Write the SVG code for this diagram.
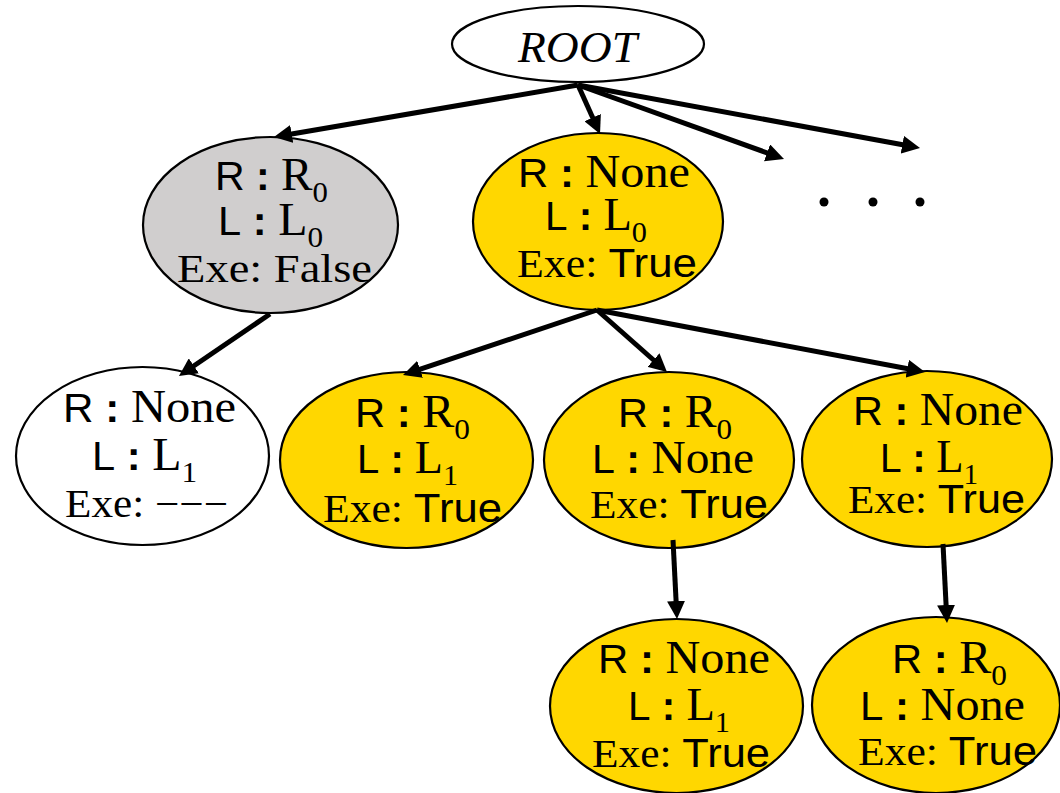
<svg xmlns="http://www.w3.org/2000/svg" width="1060" height="793" viewBox="0 0 1060 793">
  <style>
    .node { stroke: #000; stroke-width: 2.2; }
    .plain { fill: #ffffff; }
    .grey { fill: #d0cece; }
    .gold { fill: #ffd700; }
    .edge { stroke: #000; stroke-width: 5; fill: none; marker-end: url(#head); }
    text { fill: #000; }
    .s { font-family: "Liberation Sans", Arial, sans-serif; font-size: 40px; }
    .c { font-family: "Liberation Sans", Arial, sans-serif; font-size: 40px; font-weight: bold; }
    .m { font-family: "Liberation Serif", "Times New Roman", serif; font-size: 46px; }
    .e { font-family: "Liberation Serif", "Times New Roman", serif; font-size: 40px; }
    .sub { font-family: "Liberation Serif", "Times New Roman", serif; font-size: 30px; }
    .root { font-family: "Liberation Serif", "Times New Roman", serif; font-size: 45px; font-style: italic; }
  </style>
  <defs>
    <marker id="head" markerUnits="userSpaceOnUse" viewBox="0 0 18 18" markerWidth="18" markerHeight="18" refX="6" refY="9" orient="auto">
      <path d="M0,0 L18,9 L0,18 Z" fill="#000"/>
    </marker>
  </defs>

  <rect width="1060" height="793" fill="#ffffff"/>

  <!-- root -->
  <g id="root">
    <ellipse class="node plain" cx="578" cy="44" rx="126" ry="38"/>
    <text class="root" x="518" y="62" textLength="119" lengthAdjust="spacingAndGlyphs">ROOT</text>
  </g>

  <!-- level 1 -->
  <g id="n-r0-l0">
    <ellipse class="node grey" cx="270.5" cy="225" rx="127.5" ry="88"/>
    <text x="215" y="190" textLength="113" lengthAdjust="spacingAndGlyphs"><tspan class="s">R</tspan><tspan class="c"> : </tspan><tspan class="m">R</tspan><tspan class="sub" dy="12">0</tspan></text>
    <text x="218" y="235" textLength="105" lengthAdjust="spacingAndGlyphs"><tspan class="s">L</tspan><tspan class="c"> : </tspan><tspan class="m">L</tspan><tspan class="sub" dy="12">0</tspan></text>
    <text x="177" y="282" textLength="195" lengthAdjust="spacingAndGlyphs"><tspan class="e">Exe: False</tspan></text>
  </g>

  <g id="n-none-l0">
    <ellipse class="node gold" cx="598" cy="221.5" rx="125" ry="88.5"/>
    <text x="518" y="187" textLength="172" lengthAdjust="spacingAndGlyphs"><tspan class="s">R</tspan><tspan class="c"> : </tspan><tspan class="m">None</tspan></text>
    <text x="545" y="230" textLength="102" lengthAdjust="spacingAndGlyphs"><tspan class="s">L</tspan><tspan class="c"> : </tspan><tspan class="m">L</tspan><tspan class="sub" dy="12">0</tspan></text>
    <text x="517" y="277" textLength="180" lengthAdjust="spacingAndGlyphs"><tspan class="e">Exe: </tspan><tspan class="s">True</tspan></text>
  </g>

  <!-- the remaining root branches -->
  <g id="more">
    <circle cx="824" cy="202" r="4.5" fill="#000"/>
    <circle cx="873" cy="202" r="4.5" fill="#000"/>
    <circle cx="920" cy="202" r="4.5" fill="#000"/>
  </g>

  <!-- level 2 -->
  <g id="n-none-l1-a">
    <ellipse class="node plain" cx="142.5" cy="456" rx="126.5" ry="89"/>
    <text x="63" y="422" textLength="173" lengthAdjust="spacingAndGlyphs"><tspan class="s">R</tspan><tspan class="c"> : </tspan><tspan class="m">None</tspan></text>
    <text x="92" y="470" textLength="105" lengthAdjust="spacingAndGlyphs"><tspan class="s">L</tspan><tspan class="c"> : </tspan><tspan class="m">L</tspan><tspan class="sub" dy="12">1</tspan></text>
    <text x="65" y="517" textLength="163" lengthAdjust="spacingAndGlyphs"><tspan class="e">Exe: −−−</tspan></text>
  </g>

  <g id="n-r0-l1">
    <ellipse class="node gold" cx="406.5" cy="460" rx="126.5" ry="88"/>
    <text x="355" y="427" textLength="115" lengthAdjust="spacingAndGlyphs"><tspan class="s">R</tspan><tspan class="c"> : </tspan><tspan class="m">R</tspan><tspan class="sub" dy="12">0</tspan></text>
    <text x="357" y="473" textLength="101" lengthAdjust="spacingAndGlyphs"><tspan class="s">L</tspan><tspan class="c"> : </tspan><tspan class="m">L</tspan><tspan class="sub" dy="12">1</tspan></text>
    <text x="323" y="522" textLength="179" lengthAdjust="spacingAndGlyphs"><tspan class="e">Exe: </tspan><tspan class="s">True</tspan></text>
  </g>

  <g id="n-r0-none">
    <ellipse class="node gold" cx="669" cy="460" rx="125" ry="88"/>
    <text x="618" y="427" textLength="114" lengthAdjust="spacingAndGlyphs"><tspan class="s">R</tspan><tspan class="c"> : </tspan><tspan class="m">R</tspan><tspan class="sub" dy="12">0</tspan></text>
    <text x="592" y="473" textLength="162" lengthAdjust="spacingAndGlyphs"><tspan class="s">L</tspan><tspan class="c"> : </tspan><tspan class="m">None</tspan></text>
    <text x="590" y="518" textLength="178" lengthAdjust="spacingAndGlyphs"><tspan class="e">Exe: </tspan><tspan class="s">True</tspan></text>
  </g>

  <g id="n-none-l1-b">
    <ellipse class="node gold" cx="927" cy="459" rx="125" ry="88"/>
    <text x="853" y="425" textLength="170" lengthAdjust="spacingAndGlyphs"><tspan class="s">R</tspan><tspan class="c"> : </tspan><tspan class="m">None</tspan></text>
    <text x="880" y="472" textLength="98" lengthAdjust="spacingAndGlyphs"><tspan class="s">L</tspan><tspan class="c"> : </tspan><tspan class="m">L</tspan><tspan class="sub" dy="12">1</tspan></text>
    <text x="848" y="513" textLength="177" lengthAdjust="spacingAndGlyphs"><tspan class="e">Exe: </tspan><tspan class="s">True</tspan></text>
  </g>

  <!-- level 3 -->
  <g id="n-none-l1-c">
    <ellipse class="node gold" cx="676.5" cy="706" rx="126.5" ry="87"/>
    <text x="598" y="673" textLength="172" lengthAdjust="spacingAndGlyphs"><tspan class="s">R</tspan><tspan class="c"> : </tspan><tspan class="m">None</tspan></text>
    <text x="628" y="720" textLength="102" lengthAdjust="spacingAndGlyphs"><tspan class="s">L</tspan><tspan class="c"> : </tspan><tspan class="m">L</tspan><tspan class="sub" dy="12">1</tspan></text>
    <text x="592" y="767" textLength="178" lengthAdjust="spacingAndGlyphs"><tspan class="e">Exe: </tspan><tspan class="s">True</tspan></text>
  </g>

  <g id="n-r0-none-b">
    <ellipse class="node gold" cx="936" cy="705" rx="124" ry="88"/>
    <text x="892" y="673" textLength="115" lengthAdjust="spacingAndGlyphs"><tspan class="s">R</tspan><tspan class="c"> : </tspan><tspan class="m">R</tspan><tspan class="sub" dy="12">0</tspan></text>
    <text x="860" y="720" textLength="165" lengthAdjust="spacingAndGlyphs"><tspan class="s">L</tspan><tspan class="c"> : </tspan><tspan class="m">None</tspan></text>
    <text x="858" y="765" textLength="179" lengthAdjust="spacingAndGlyphs"><tspan class="e">Exe: </tspan><tspan class="s">True</tspan></text>
  </g>

  <!-- connectors -->
  <g id="edges">
    <line class="edge" x1="578" y1="85" x2="285.8" y2="135"/>
    <line class="edge" x1="578" y1="85" x2="595.1" y2="123.1"/>
    <line class="edge" x1="578" y1="85" x2="772.7" y2="154.9"/>
    <line class="edge" x1="578" y1="85" x2="908.2" y2="145.8"/>
    <line class="edge" x1="270" y1="314" x2="188.9" y2="369.2"/>
    <line class="edge" x1="597" y1="310" x2="414.4" y2="371.2"/>
    <line class="edge" x1="597" y1="310" x2="658" y2="364"/>
    <line class="edge" x1="597" y1="310" x2="913.2" y2="369.8"/>
    <line class="edge" x1="673" y1="540" x2="676.4" y2="607"/>
    <line class="edge" x1="943" y1="544" x2="946.4" y2="611"/>
  </g>
</svg>
